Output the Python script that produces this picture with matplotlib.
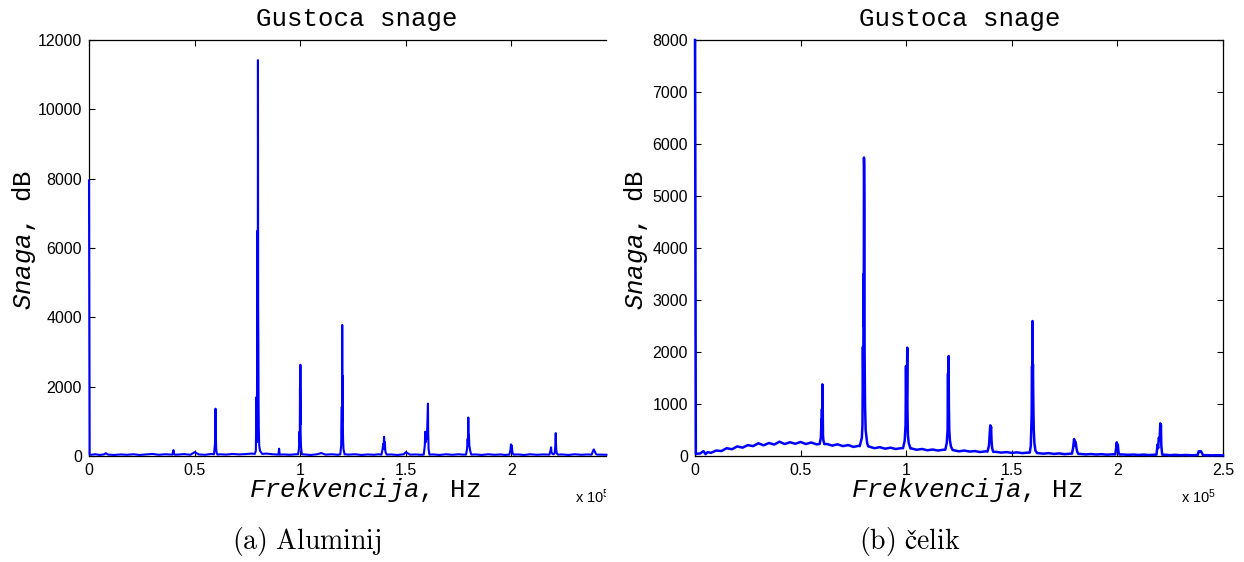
import matplotlib
matplotlib.use('Agg')
import matplotlib.pyplot as plt
from matplotlib.transforms import Bbox, TransformedBbox

# Power spectra (frequency in units of 1e5 Hz)
plt.rcParams['mathtext.fontset'] = 'custom'
plt.rcParams['mathtext.it'] = 'Liberation Mono:italic'
plt.rcParams['mathtext.rm'] = 'Liberation Mono'

# --- Aluminij ---
al_dc_f = [0.0, 0.003]
al_dc_p = [7950, 40]
al_base_f = [0.01, 0.03, 0.05, 0.07, 0.08, 0.09, 0.12, 0.15, 0.18, 0.21, 0.24, 0.27, 0.30, 0.33, 0.36,
             0.42, 0.45, 0.48, 0.50, 0.52, 0.55, 0.58, 0.62, 0.65, 0.68, 0.71, 0.74, 0.77,
             0.84, 0.87, 0.92, 0.95, 0.98, 1.02, 1.05, 1.08, 1.10, 1.12, 1.15, 1.18,
             1.23, 1.26, 1.29, 1.32, 1.35, 1.37, 1.43, 1.46, 1.49, 1.50, 1.52, 1.55, 1.57,
             1.63, 1.66, 1.69, 1.72, 1.75, 1.77, 1.83, 1.86, 1.89, 1.92, 1.95, 1.97,
             2.03, 2.06, 2.09, 2.12, 2.15, 2.17, 2.24, 2.27, 2.30, 2.33, 2.36, 2.42, 2.45]
al_base_p = [35, 50, 30, 45, 80, 40, 30, 45, 35, 50, 30, 45, 60, 35, 50,
             40, 55, 35, 110, 45, 35, 60, 50, 40, 60, 45, 55, 70,
             70, 50, 45, 35, 50, 45, 30, 50, 85, 40, 50, 35,
             40, 50, 30, 45, 35, 50, 45, 30, 50, 110, 40, 45, 35,
             45, 30, 50, 35, 50, 40, 45, 30, 50, 35, 45, 30,
             45, 30, 50, 35, 45, 40, 45, 30, 50, 35, 45, 40, 35]
al_peak_f = [
    [0.395, 0.398, 0.400, 0.402, 0.405],
    [0.592, 0.595, 0.597, 0.598, 0.599, 0.600, 0.601, 0.602, 0.603, 0.605, 0.608],
    [0.785, 0.790, 0.793, 0.795, 0.796, 0.797, 0.798, 0.799, 0.800, 0.801, 0.802, 0.803, 0.804, 0.806, 0.810, 0.820],
    [0.897, 0.900, 0.903],
    [0.990, 0.994, 0.997, 0.998, 0.999, 1.000, 1.001, 1.002, 1.004, 1.008],
    [1.190, 1.194, 1.197, 1.198, 1.199, 1.200, 1.201, 1.202, 1.203, 1.205, 1.210],
    [1.385, 1.390, 1.393, 1.395, 1.397, 1.399, 1.401, 1.403, 1.406, 1.410],
    [1.585, 1.590, 1.592, 1.595, 1.598, 1.600, 1.602, 1.604, 1.605, 1.606, 1.608, 1.612],
    [1.785, 1.790, 1.793, 1.795, 1.796, 1.797, 1.799, 1.801, 1.805, 1.810],
    [1.990, 1.995, 1.998, 2.000, 2.002, 2.005, 2.010],
    [2.180, 2.185, 2.188, 2.190, 2.195, 2.200, 2.205, 2.208, 2.210, 2.212, 2.215, 2.220],
    [2.380, 2.385, 2.390, 2.393, 2.396, 2.400, 2.405],
]
al_peak_p = [
    [40, 120, 170, 90, 40],
    [50, 250, 400, 200, 1365, 300, 570, 250, 150, 80, 40],
    [60, 150, 1700, 400, 3000, 800, 6500, 2000, 11420, 4300, 3200, 1500, 800, 300, 150, 60],
    [40, 210, 40],
    [50, 200, 700, 400, 1980, 900, 2630, 700, 250, 50],
    [50, 300, 1416, 600, 3780, 1000, 2315, 800, 500, 200, 50],
    [40, 200, 350, 200, 555, 300, 400, 150, 80, 40],
    [40, 300, 700, 400, 650, 500, 900, 1200, 1512, 700, 200, 40],
    [40, 200, 500, 300, 1110, 480, 600, 300, 150, 40],
    [40, 150, 335, 250, 300, 100, 40],
    [40, 150, 250, 100, 60, 50, 80, 300, 660, 200, 80, 40],
    [40, 120, 190, 150, 120, 60, 40],
]

# --- celik ---
st_dc_f = [0.0, 0.004]
st_dc_p = [8000, 40]
st_base_f = [0.025, 0.04, 0.05, 0.06, 0.075, 0.1, 0.125, 0.15, 0.175, 0.2, 0.225, 0.25, 0.275, 0.3,
             0.325, 0.35, 0.375, 0.4, 0.425, 0.45, 0.475, 0.5, 0.525, 0.55, 0.575,
             0.625, 0.65, 0.675, 0.7, 0.725, 0.75, 0.775,
             0.825, 0.85, 0.875, 0.9, 0.925, 0.95, 0.975,
             1.025, 1.05, 1.075, 1.1, 1.125, 1.15, 1.175,
             1.225, 1.25, 1.275, 1.3, 1.325, 1.35, 1.375,
             1.425, 1.45, 1.475, 1.5, 1.525, 1.55, 1.575,
             1.625, 1.65, 1.675, 1.7, 1.725, 1.75, 1.775,
             1.825, 1.85, 1.875, 1.9, 1.925, 1.95, 1.975,
             2.025, 2.05, 2.075, 2.1, 2.125, 2.15, 2.175,
             2.225, 2.25, 2.275, 2.3, 2.325, 2.35, 2.375,
             2.425, 2.45, 2.475, 2.5]
st_base_p = [50, 95, 35, 75, 60, 105, 95, 150, 130, 185, 160, 210, 190, 245,
             205, 250, 220, 275, 230, 265, 235, 270, 230, 260, 225,
             230, 200, 225, 190, 210, 175, 195,
             180, 150, 170, 140, 160, 135, 150,
             145, 120, 135, 110, 125, 105, 120,
             110, 90, 105, 85, 95, 75, 90,
             80, 65, 75, 60, 70, 55, 65,
             55, 45, 55, 40, 50, 35, 45,
             40, 30, 38, 28, 35, 25, 32,
             30, 22, 28, 20, 27, 18, 25,
             24, 16, 22, 15, 20, 14, 18,
             16, 12, 16, 12]
st_peak_f = [
    [0.590, 0.596, 0.599, 0.600, 0.601, 0.602, 0.603, 0.604, 0.605, 0.606, 0.608, 0.612],
    [0.780, 0.790, 0.793, 0.795, 0.797, 0.798, 0.799, 0.800, 0.801, 0.802, 0.803, 0.805, 0.808, 0.815, 0.820],
    [0.985, 0.993, 0.997, 0.999, 1.001, 1.003, 1.005, 1.006, 1.008, 1.012, 1.020],
    [1.185, 1.192, 1.196, 1.198, 1.199, 1.201, 1.202, 1.204, 1.207, 1.212, 1.220],
    [1.385, 1.392, 1.396, 1.398, 1.400, 1.402, 1.404, 1.407, 1.412],
    [1.585, 1.590, 1.594, 1.596, 1.597, 1.598, 1.599, 1.600, 1.602, 1.604, 1.607, 1.612, 1.620],
    [1.785, 1.790, 1.793, 1.795, 1.797, 1.800, 1.803, 1.806, 1.810, 1.815],
    [1.990, 1.994, 1.997, 1.999, 2.002, 2.005, 2.010],
    [2.185, 2.190, 2.193, 2.196, 2.200, 2.203, 2.204, 2.206, 2.208, 2.212],
    [2.380, 2.385, 2.390, 2.395, 2.400, 2.405],
]
st_peak_p = [
    [230, 350, 705, 400, 900, 500, 1378, 600, 850, 400, 300, 230],
    [190, 350, 600, 2100, 1200, 3500, 2500, 5740, 5590, 4810, 2000, 1000, 500, 250, 185],
    [150, 300, 600, 1730, 800, 1200, 2083, 900, 400, 250, 145],
    [120, 250, 500, 1590, 900, 1923, 1000, 500, 300, 180, 115],
    [85, 200, 450, 590, 500, 560, 300, 150, 80],
    [65, 200, 800, 1730, 1000, 2596, 1500, 1770, 1000, 500, 250, 100, 55],
    [45, 150, 250, 327, 200, 280, 250, 150, 80, 40],
    [30, 150, 263, 180, 220, 80, 28],
    [25, 220, 150, 350, 300, 628, 400, 600, 200, 25],
    [18, 90, 80, 95, 60, 16],
]


def merge(dc_f, dc_p, base_f, base_p, peak_f, peak_p):
    pts = list(zip(dc_f, dc_p)) + list(zip(base_f, base_p))
    for pf, pp in zip(peak_f, peak_p):
        pts += list(zip(pf, pp))
    pts.sort(key=lambda t: t[0])
    return [t[0] for t in pts], [t[1] for t in pts]


W, H = 1244, 562
fig = plt.figure(figsize=(W / 100, H / 100), dpi=100)

mono = 'Liberation Mono'
sans = 'Liberation Sans'


def style(ax, ymax, ystep):
    ax.set_ylim(0, ymax)
    ax.set_yticks(range(0, ymax + 1, ystep))
    ax.set_xticks([0, 0.5, 1, 1.5, 2, 2.5])
    ax.set_xticklabels(['0', '0.5', '1', '1.5', '2', '2.5'])
    ax.tick_params(direction='in', length=4, width=0.8, top=True, right=True,
                   labelsize=11.5, pad=5)
    for lab in ax.get_xticklabels() + ax.get_yticklabels():
        lab.set_fontfamily(sans)
    for s in ax.spines.values():
        s.set_linewidth(0.9)


# left panel (cropped on the right like the original)
ax1 = fig.add_axes([89 / W, 106 / H, (606 - 89) / W, 416 / H])
f, p = merge(al_dc_f, al_dc_p, al_base_f, al_base_p, al_peak_f, al_peak_p)
ax1.plot(f, p, color='#0000ff', lw=1.5, zorder=3, clip_on=False)
style(ax1, 12000, 2000)
ax1.set_xlim(0, 2.448)
ax1.spines['right'].set_visible(False)
ax1.tick_params(right=False)

ax2 = fig.add_axes([695 / W, 106 / H, 528 / W, 416 / H])
f, p = merge(st_dc_f, st_dc_p, st_base_f, st_base_p, st_peak_f, st_peak_p)
ax2.plot(f, p, color='#0000ff', lw=1.8, zorder=3, clip_on=False)
style(ax2, 8000, 1000)
ax2.set_xlim(0, 2.5)

for cx, lx, yx in [(357, 365, 24), (960, 967, 636)]:
    fig.text(cx / W, 1 - 19 / H, 'Gustoca snage', family=mono, fontsize=18.5,
             ha='center', va='center')
    fig.text(lx / W, 1 - 490 / H, r'$\mathit{Frekvencija}$, Hz', family=mono,
             fontsize=18.5, ha='center', va='center')
    fig.text(yx / W, 1 - 240 / H, r'$\mathit{Snaga}$, dB', family=mono,
             fontsize=18.5, ha='center', va='center', rotation=90)

clip = TransformedBbox(Bbox.from_extents(0, 0, 606 / W, 1), fig.transFigure)
for rx, clipped in [(610, True), (1216, False)]:
    t = fig.text(rx / W, 1 - 497 / H, r'x 10$^{\mathregular{5}}$', family=sans,
                 fontsize=10.5, ha='right', va='center')
    if clipped:
        t.set_clip_box(clip)
        t.set_clip_on(True)

fig.text(307 / W, 1 - 541 / H, r'$\mathrm{(a)\ Aluminij}$', math_fontfamily='cm',
         fontsize=20, ha='center', va='center')
fig.text(910 / W, 1 - 541 / H, r'$\mathrm{(b)\ čelik}$', math_fontfamily='cm',
         fontsize=20, ha='center', va='center')

fig.savefig('out.png', dpi=100)
